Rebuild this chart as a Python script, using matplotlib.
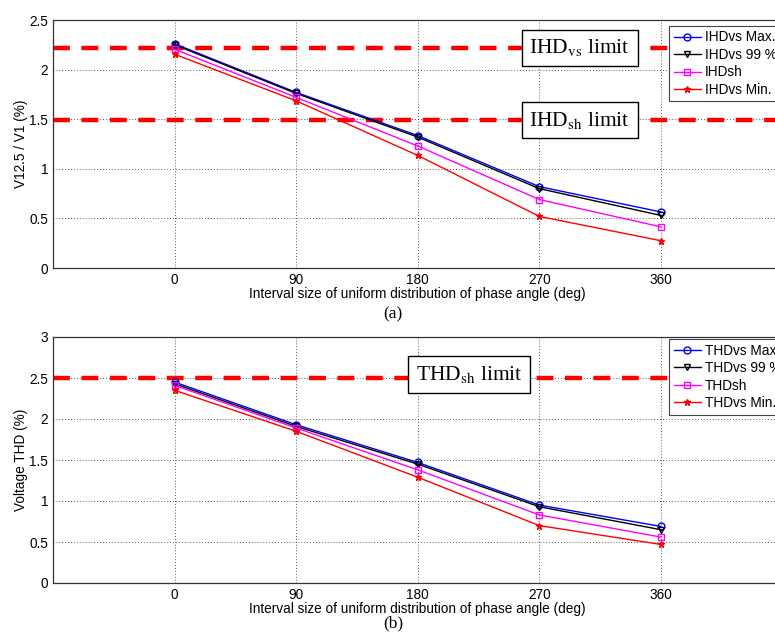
import matplotlib
matplotlib.use("Agg")
import matplotlib.pyplot as plt

plt.rcParams["font.family"] = ["Liberation Sans", "DejaVu Sans"]
plt.rcParams["mathtext.fontset"] = "stix"

# interval size of the uniform phase-angle distribution (deg)
angles = [0, 90, 180, 270, 360]

# (a) 12.5th harmonic, V12.5 / V1 (%)
ihd_vs_max = [2.26, 1.77, 1.335, 0.82, 0.565]
ihd_vs_99 = [2.25, 1.76, 1.32, 0.80, 0.53]
ihd_sh = [2.205, 1.72, 1.23, 0.69, 0.415]
ihd_vs_min = [2.155, 1.685, 1.135, 0.52, 0.275]
ihd_vs_limit = 2.22
ihd_sh_limit = 1.49

# (b) voltage THD (%)
thd_vs_max = [2.45, 1.93, 1.47, 0.95, 0.69]
thd_vs_99 = [2.43, 1.91, 1.45, 0.93, 0.65]
thd_sh = [2.41, 1.89, 1.38, 0.83, 0.56]
thd_vs_min = [2.35, 1.85, 1.29, 0.70, 0.47]
thd_sh_limit = 2.5

W, H = 775, 634
fig = plt.figure(figsize=(W / 100, H / 100), dpi=100)

# axes run past the right edge of the figure (x range -90..450)
ax1 = fig.add_axes([53 / W, 1 - 268 / H, 729.5 / W, 248 / H])
ax2 = fig.add_axes([53 / W, 1 - 583 / H, 729.5 / W, 246 / H])

styles = [
    dict(color="blue", marker="o", mfc="none", ms=5),
    dict(color="black", marker="v", mfc="none", ms=5),
    dict(color="magenta", marker="s", mfc="none", ms=5),
    dict(color="red", marker="*", ms=4.5),
]


def draw_panel(ax, series, labels, ymax, ylabel, legend_top):
    for ys, lab, st in zip(series, labels, styles):
        ax.plot(angles, ys, lw=1.0, mew=1.0, label=lab, zorder=3, **st)
    ax.set_xlim(-90, 450)
    ax.set_ylim(0, ymax)
    ax.set_xticks(angles)
    n = int(ymax * 2) + 1
    ax.set_yticks([v * 0.5 for v in range(n)])
    ax.set_yticklabels(["0", "0.5", "1", "1.5", "2", "2.5", "3"][:n])
    ax.grid(True, ls=(0, (1, 2.5)), color="#222222", lw=0.6)
    ax.tick_params(direction="in", length=0, labelsize=9.8, pad=3.5)
    for sp in ax.spines.values():
        sp.set_color("#333333")
        sp.set_linewidth(0.9)
    ax.set_ylabel(ylabel, fontsize=9.8, labelpad=1)
    ax.set_xlabel("Interval size of uniform distribution of phase angle (deg)",
                  fontsize=9.8, labelpad=0)
    leg = ax.legend(loc="upper left", bbox_to_anchor=(669 / W, 1 - legend_top / H),
                    bbox_transform=fig.transFigure, borderaxespad=0,
                    fancybox=False, framealpha=1, edgecolor="#444444",
                    fontsize=9.8, handlelength=2.0, labelspacing=0.25,
                    borderpad=0.35, handletextpad=0.3)
    leg.get_frame().set_linewidth(0.8)
    leg.set_zorder(5)


def limit_line(ax, y, text, xtext, ytext):
    ax.axhline(y, color="red", lw=3.2, dashes=(3.8, 2.6), zorder=2)
    ax.text(xtext, ytext, text, fontsize=15.5, family="Liberation Serif",
            ha="center", va="center", zorder=4,
            bbox=dict(boxstyle="square,pad=0.36", fc="white", ec="black", lw=1.0))


draw_panel(ax1, [ihd_vs_max, ihd_vs_99, ihd_sh, ihd_vs_min],
           ["IHDvs Max.", "IHDvs 99 %", "IHDsh", "IHDvs Min."],
           2.5, "V12.5 / V1 (%)", 25.7)
limit_line(ax1, ihd_vs_limit, r"IHD$_{\mathrm{vs}}$ limit", 300, ihd_vs_limit)
limit_line(ax1, ihd_sh_limit, r"IHD$_{\mathrm{sh}}$ limit", 300, ihd_sh_limit)

draw_panel(ax2, [thd_vs_max, thd_vs_99, thd_sh, thd_vs_min],
           ["THDvs Max.", "THDvs 99 %", "THDsh", "THDvs Min."],
           3, "Voltage THD (%)", 339)
limit_line(ax2, thd_sh_limit, r"THD$_{\mathrm{sh}}$ limit", 218, 2.54)

fig.text(393 / W, 1 - 314 / H, "(a)", fontsize=12.5, family="Liberation Serif",
         ha="center", va="center")
fig.text(393 / W, 1 - 623 / H, "(b)", fontsize=12.5, family="Liberation Serif",
         ha="center", va="center")

fig.savefig("out.png", dpi=100)
